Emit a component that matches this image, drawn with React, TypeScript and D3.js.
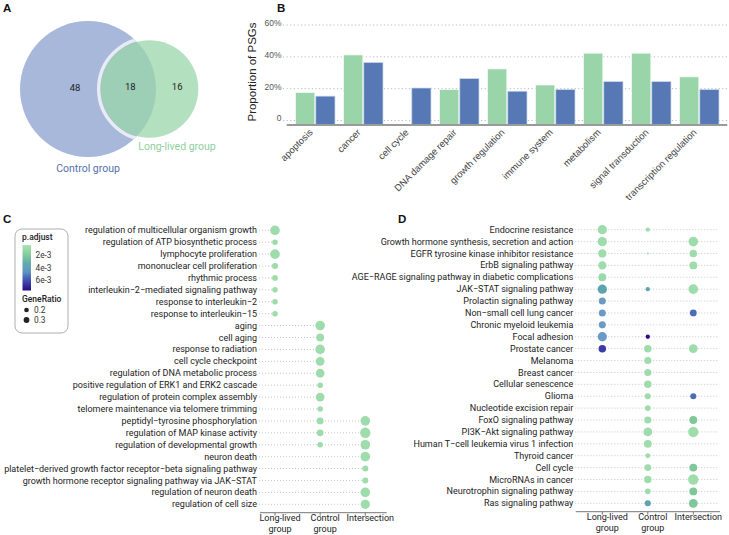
import React from 'react';
import * as d3 from 'd3';

// ---------- Panel A: Venn ----------
const vennSets = ['Control group', 'Long-lived group'];
const vennOnly = [48, 16]; // control only, long-lived only
const vennBoth = 18;

// ---------- Panel B: bars ----------
const bCategories = ['apoptosis', 'cancer', 'cell cycle', 'DNA damage repair', 'growth regulation', 'immune system', 'metabolism', 'signal transduction', 'transcription regulation'];
const bLongLived = [17.5, 41.2, 0, 19.4, 32.4, 22.3, 42.3, 42.3, 27.4];
const bControl = [15.3, 36.4, 20.4, 26.3, 18.4, 19.4, 24.4, 24.4, 19.4];
const bTicks = [0, 20, 40, 60];

// ---------- Panel C: GO dot plot ----------
const groups = ['Long-lived group', 'Control group', 'Intersection'];
const cTerms = [
  'regulation of multicellular organism growth',
  'regulation of ATP biosynthetic process',
  'lymphocyte proliferation',
  'mononuclear cell proliferation',
  'rhythmic process',
  'interleukin−2−mediated signaling pathway',
  'response to interleukin−2',
  'response to interleukin−15',
  'aging',
  'cell aging',
  'response to radiation',
  'cell cycle checkpoint',
  'regulation of DNA metabolic process',
  'positive regulation of ERK1 and ERK2 cascade',
  'regulation of protein complex assembly',
  'telomere maintenance via telomere trimming',
  'peptidyl−tyrosine phosphorylation',
  'regulation of MAP kinase activity',
  'regulation of developmental growth',
  'neuron death',
  'platelet−derived growth factor receptor−beta signaling pathway',
  'growth hormone receptor signaling pathway via JAK−STAT',
  'regulation of neuron death',
  'regulation of cell size',
];
const _ = null;
const cRatioLL = [0.3, 0.1, 0.3, 0.12, 0.11, 0.1, 0.1, 0.1, _, _, _, _, _, _, _, _, _, _, _, _, _, _, _, _];
const cRatioCtrl = [_, _, _, _, _, _, _, _, 0.3, 0.2, 0.3, 0.25, 0.25, 0.1, 0.25, 0.1, 0.15, 0.15, 0.1, _, _, _, _, _];
const cRatioInt = [_, _, _, _, _, _, _, _, _, _, _, _, _, _, _, _, 0.3, 0.35, 0.3, 0.3, 0.12, 0.12, 0.3, 0.28];
const cPadj = 0.0008;

// ---------- Panel D: KEGG dot plot ----------
const dTerms = [
  'Endocrine resistance',
  'Growth hormone synthesis, secretion and action',
  'EGFR tyrosine kinase inhibitor resistance',
  'ErbB signaling pathway',
  'AGE−RAGE signaling pathway in diabetic complications',
  'JAK−STAT signaling pathway',
  'Prolactin signaling pathway',
  'Non−small cell lung cancer',
  'Chronic myeloid leukemia',
  'Focal adhesion',
  'Prostate cancer',
  'Melanoma',
  'Breast cancer',
  'Cellular senescence',
  'Glioma',
  'Nucleotide excision repair',
  'FoxO signaling pathway',
  'PI3K−Akt signaling pathway',
  'Human T−cell leukemia virus 1 infection',
  'Thyroid cancer',
  'Cell cycle',
  'MicroRNAs in cancer',
  'Neurotrophin signaling pathway',
  'Ras signaling pathway',
];
const dRatioLL = [0.28, 0.28, 0.22, 0.22, 0.2, 0.28, 0.16, 0.16, 0.16, 0.28, 0.18, _, _, _, _, _, _, _, _, _, _, _, _, _];
const dPadjLL = [0.0008, 0.0008, 0.0008, 0.0008, 0.001, 0.0035, 0.0045, 0.0045, 0.0045, 0.0045, 0.0065, _, _, _, _, _, _, _, _, _, _, _, _, _];
const dRatioCtrl = [0.06, _, 0.015, _, _, 0.06, _, _, _, 0.06, 0.18, 0.16, 0.16, 0.18, 0.12, 0.1, 0.16, 0.25, 0.2, 0.08, 0.15, 0.18, 0.1, 0.12];
const dPadjCtrl = [0.0008, _, 0.0008, _, _, 0.0035, _, _, _, 0.0076, 0.0008, 0.0008, 0.0008, 0.0008, 0.0008, 0.0008, 0.0008, 0.0008, 0.0008, 0.0008, 0.0008, 0.0008, 0.0008, 0.0035];
const dRatioInt = [_, 0.3, 0.18, 0.2, _, 0.3, _, 0.15, _, _, 0.25, _, _, _, 0.12, _, 0.2, 0.35, _, _, 0.2, 0.35, 0.2, 0.25];
const dPadjInt = [_, 0.0008, 0.0008, 0.0008, _, 0.0008, _, 0.0055, _, _, 0.0008, _, _, _, 0.0055, _, 0.0022, 0.0008, _, _, 0.0022, 0.0008, 0.0022, 0.0022];

const padjTicks = [0.002, 0.004, 0.006];
const padjTickLabels = ['2e-3', '4e-3', '6e-3'];
const ratioLegend = [0.2, 0.3];

const LABEL_FONT = 'Roboto, "Noto Sans", sans-serif';
const ARIAL = '"Liberation Sans", Arial, sans-serif';

const colorScale = d3
  .scaleLinear<string>()
  .domain([0.00035, 0.0022, 0.0035, 0.0045, 0.0055, 0.0065, 0.0077])
  .range(['#a9e3b3', '#7ec798', '#5ea4b0', '#6a9bc5', '#4a6db5', '#3a3ba8', '#2a0a80'])
  .clamp(true);
const sizeScale = d3.scaleSqrt().domain([0, 0.35]).range([0, 5.2]);

function DotPanel(props: {
  terms: string[];
  cols: (number | null)[][];
  padj: ((number | null)[] | number)[];
  yRange: [number, number];
  xRange: [number, number];
  labelX: number;
  lineEnd: number | null;
  axis: [number, number, number];
  fontSize: number;
}) {
  const { terms, cols, padj, yRange, xRange, labelX, lineEnd, axis, fontSize } = props;
  const y = d3.scalePoint<string>().domain(terms).range(yRange);
  const x = d3.scalePoint<string>().domain(groups).range(xRange);
  return (
    <g>
      {terms.map((t, i) => {
        let maxX = xRange[0];
        groups.forEach((g, gi) => {
          if (cols[gi][i] != null) maxX = Math.max(maxX, x(g)!);
        });
        const end = lineEnd == null ? maxX : lineEnd;
        return (
          <g key={t}>
            <line x1={labelX + 2} x2={end} y1={y(t)} y2={y(t)} stroke="#b8b8b8" strokeWidth={0.8} strokeDasharray="1,2" />
            <text x={labelX} y={y(t)} dy="0.34em" textAnchor="end" fontFamily={LABEL_FONT} fontSize={fontSize} fill="#222">
              {t}
            </text>
          </g>
        );
      })}
      {groups.map((g, gi) =>
        terms.map((t, i) => {
          const r = cols[gi][i];
          if (r == null) return null;
          const pv = padj[gi];
          const p = typeof pv === 'number' ? pv : (pv[i] as number);
          return <circle key={g + t} cx={x(g)} cy={y(t)} r={sizeScale(r)} fill={colorScale(p)} />;
        })
      )}
      <line x1={axis[0]} x2={axis[1]} y1={axis[2]} y2={axis[2]} stroke="#777" strokeWidth={1} />
      {groups.map((g) => {
        const words = g === 'Intersection' ? ['Intersection'] : [g.split(' ')[0], 'group'];
        return (
          <g key={g}>
            <line x1={x(g)} x2={x(g)} y1={axis[2]} y2={axis[2] + 3} stroke="#777" />
            {words.map((w, wi) => (
              <text key={w} x={x(g)! + 5} y={axis[2] + 8.5 + wi * 10.5} textAnchor="middle" fontFamily={LABEL_FONT} fontSize={fontSize} fill="#222">
                {w}
              </text>
            ))}
          </g>
        );
      })}
    </g>
  );
}

export default function App() {
  // Panel A
  const totals = [vennOnly[0] + vennBoth, vennOnly[1] + vennBoth];
  const rScale = d3.scaleSqrt().domain([0, totals[0]]).range([0, 68]);
  const c1 = { x: 88, y: 89, r: rScale(totals[0]) };
  const c2 = { x: 149.5, y: 89, r: rScale(totals[1]) };

  // Panel B
  const bx = d3.scaleBand().domain(bCategories).range([291.3, 723.3]).paddingInner(0.18).paddingOuter(0.09);
  const bInner = d3.scaleBand().domain(['ll', 'ctrl']).range([0, bx.bandwidth()]).paddingInner(0.05);
  const by = d3.scaleLinear().domain([0, 60]).range([120.5, 25]);
  const baseY = 125;

  // legend gradient stops
  const gradStops = d3.range(0, 1.0001, 0.1).map((t) => {
    const v = 0.00035 + t * (0.0077 - 0.00035);
    return { t, c: colorScale(v) };
  });
  const legY = d3.scaleLinear().domain([0.00035, 0.0077]).range([245, 290.5]);

  return (
    <svg width={729} height={535} style={{ position: 'absolute', left: 0, top: 0, background: '#fff' }}>
      <defs>
        <linearGradient id="padjGrad" x1="0" y1="0" x2="0" y2="1">
          {gradStops.map((s) => (
            <stop key={s.t} offset={s.t} stopColor={s.c} />
          ))}
        </linearGradient>
        <clipPath id="ctrlClip">
          <circle cx={c1.x} cy={c1.y} r={c1.r} />
        </clipPath>
      </defs>

      {/* panel letters */}
      {[['A', 3, 12], ['B', 277, 12], ['C', 3, 223], ['D', 398, 223]].map(([l, x, y]) => (
        <text key={l as string} x={x as number} y={y as number} fontFamily={ARIAL} fontWeight="bold" fontSize={11.5} fill="#111">
          {l}
        </text>
      ))}

      {/* Panel A */}
      <circle cx={c1.x} cy={c1.y} r={c1.r} fill="#a8b8da" />
      <circle cx={c2.x} cy={c2.y} r={c2.r + 2} fill="none" stroke="#e8ebf4" strokeWidth={3.5} clipPath="url(#ctrlClip)" />
      <circle cx={c2.x} cy={c2.y} r={c2.r} fill="#9ad6aa" fillOpacity={0.75} />
      <g fontFamily={LABEL_FONT} fontSize={9.5} fill="#222" textAnchor="middle">
        <text x={c1.x - 13} y={c1.y + 2}>{vennOnly[0]}</text>
        <text x={(c2.x - c2.r + c1.x + c1.r) / 2 + 2} y={c1.y + 1}>{vennBoth}</text>
        <text x={(c1.x + c1.r + c2.x + c2.r) / 2} y={c1.y + 1}>{vennOnly[1]}</text>
      </g>
      <text x={c1.x} y={172} textAnchor="middle" fontFamily={LABEL_FONT} fontSize={10.5} fill="#5470ab">{vennSets[0]}</text>
      <text x={177} y={150} textAnchor="middle" fontFamily={LABEL_FONT} fontSize={10.5} fill="#8ed0a0">{vennSets[1]}</text>

      {/* Panel B */}
      {bTicks.map((t) => (
        <g key={t}>
          <line x1={283} x2={729} y1={by(t)} y2={by(t)} stroke="#aaa" strokeWidth={0.8} strokeDasharray="1.2,2.4" />
          <text x={281.5} y={by(t)} dy="0.1em" textAnchor="end" fontFamily={ARIAL} fontSize={8.5} fill="#555">
            {t === 0 ? '0' : `${t}%`}
          </text>
        </g>
      ))}
      {bCategories.map((c, i) => (
        <g key={c} transform={`translate(${bx(c)},0)`}>
          {bLongLived[i] > 0 && (
            <rect x={bInner('ll')} y={by(bLongLived[i])} width={bInner.bandwidth()} height={baseY - by(bLongLived[i])} fill="#9ad5aa" stroke="#f2faf4" strokeWidth={0.7} />
          )}
          {bControl[i] > 0 && (
            <rect x={bInner('ctrl')} y={by(bControl[i])} width={bInner.bandwidth()} height={baseY - by(bControl[i])} fill="#5679b5" stroke="#c9d4ea" strokeWidth={0.7} />
          )}
        </g>
      ))}
      <line x1={286.7} x2={727.3} y1={baseY} y2={baseY} stroke="#9a9a9a" strokeWidth={2} />
      {bCategories.map((c) => (
        <text
          key={c}
          transform={`translate(${bx(c)! + bx.bandwidth() / 2 - 2},${133}) rotate(-45)`}
          textAnchor="end"
          fontFamily={ARIAL}
          fontSize={9.5}
          fill="#444"
        >
          {c}
        </text>
      ))}
      <text transform="translate(256,72) rotate(-90)" textAnchor="middle" fontFamily={ARIAL} fontSize={11.5} fill="#222">
        Proportion of PSGs
      </text>

      {/* Panel C legend */}
      <rect x={15} y={229} width={53} height={104} rx={7} fill="#fff" stroke="#999" strokeWidth={0.8} />
      <text x={22} y={240} fontFamily={LABEL_FONT} fontSize={8.5} fontWeight={500} fill="#222">p.adjust</text>
      <rect x={22.5} y={245} width={8.5} height={45.5} fill="url(#padjGrad)" />
      {padjTicks.map((t, i) => (
        <text key={t} x={35.5} y={legY(t)} dy="0.35em" fontFamily={LABEL_FONT} fontSize={8.3} fill="#333">
          {padjTickLabels[i]}
        </text>
      ))}
      <text x={22} y={302} fontFamily={LABEL_FONT} fontSize={8.5} fontWeight={500} fill="#222">GeneRatio</text>
      {ratioLegend.map((v, i) => (
        <g key={v}>
          <circle cx={26.5} cy={310 + i * 10} r={sizeScale(v) * 0.6} fill="#222" />
          <text x={34} y={310 + i * 10} dy="0.35em" fontFamily={LABEL_FONT} fontSize={8.3} fill="#333">{v}</text>
        </g>
      ))}

      {/* Panel C */}
      <DotPanel
        terms={cTerms}
        cols={[cRatioLL, cRatioCtrl, cRatioInt]}
        padj={[cPadj, cPadj, cPadj]}
        yRange={[230.3, 504.3]}
        xRange={[275, 365.3]}
        labelX={257}
        lineEnd={null}
        axis={[260, 386.7, 512.7]}
        fontSize={9}
      />

      {/* Panel D */}
      <DotPanel
        terms={dTerms}
        cols={[dRatioLL, dRatioCtrl, dRatioInt]}
        padj={[dPadjLL, dPadjCtrl, dPadjInt]}
        yRange={[229.7, 503.3]}
        xRange={[602.3, 693.3]}
        labelX={573.3}
        lineEnd={719}
        axis={[575.7, 720, 511.7]}
        fontSize={9}
      />
    </svg>
  );
}
